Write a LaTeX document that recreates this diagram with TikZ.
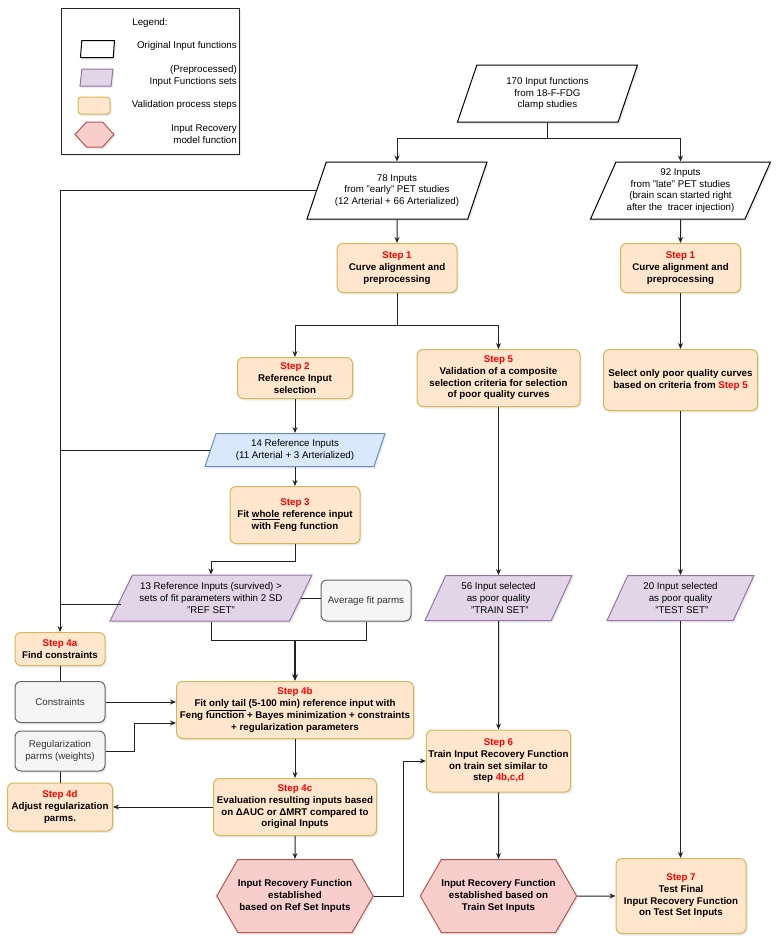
\documentclass[tikz,border=0pt]{standalone}
\usepackage{fontspec}
\setmainfont{Liberation Sans}
\usepackage{tikz}
\usetikzlibrary{arrows.meta,shapes.geometric,shapes.symbols,shadows,calc}
\definecolor{cStepF}{HTML}{FFE6CC}
\definecolor{cStepD}{HTML}{D6B656}
\definecolor{cPurpF}{HTML}{E1D5E7}
\definecolor{cPurpD}{HTML}{9673A6}
\definecolor{cBlueF}{HTML}{DAE8FC}
\definecolor{cBlueD}{HTML}{6C8EBF}
\definecolor{cRedF}{HTML}{F8CECC}
\definecolor{cRedD}{HTML}{B85450}
\definecolor{cGrayF}{HTML}{F5F5F5}
\definecolor{cGrayD}{HTML}{666666}
\definecolor{cGrayT}{HTML}{333333}
\definecolor{cLine}{HTML}{222222}
\definecolor{stepred}{HTML}{FF0000}
\newcommand{\dfont}{\fontsize{9.75pt}{11.7pt}\selectfont}
\newcommand{\steplbl}[1]{\textcolor{stepred}{#1}}
\tikzset{
  blk/.style     = {draw, line width=1pt, align=center, inner sep=2pt, font=\dfont,
                    drop shadow={opacity=0.16, shadow xshift=1.5pt, shadow yshift=-2pt}},
  stepbox/.style = {blk, rounded corners=6pt, fill=cStepF, draw=cStepD, font=\dfont\bfseries},
  graybox/.style = {blk, rounded corners=6pt, fill=cGrayF, draw=cGrayD, text=cGrayT},
  para/.style 2 args = {blk, trapezium, trapezium stretches body, inner xsep=0pt,
                    trapezium left angle=#1, trapezium right angle=#2},
  orig/.style    = {fill=white, draw=black},
  pset/.style    = {fill=cPurpF, draw=cPurpD},
  bset/.style    = {fill=cBlueF, draw=cBlueD},
  hexa/.style    = {blk, signal, signal to=west and east, signal pointer angle=120,
                    fill=cRedF, draw=cRedD, font=\dfont\bfseries, inner sep=0pt},
  lgdtxt/.style  = {font=\dfont, inner sep=0pt, anchor=east, align=right},
  line/.style    = {cLine, line width=1pt},
  arr/.style     = {line, -{Stealth[length=6pt,width=5pt]}},
  thickarr/.style= {cLine, line width=2pt, -{Stealth[length=7pt,width=6pt]}},
}
\begin{document}
\begin{tikzpicture}[x=1pt,y=-1pt]
  \useasboundingbox (0,0) rectangle (781,946);
  % legend
  \node[draw=black!85, fill=white, line width=1pt, minimum width=178, minimum height=146,
        drop shadow={opacity=0.16, shadow xshift=1.5pt, shadow yshift=-2pt}] (lgd) at (150,81) {};
  \node[font=\dfont] (lgdT) at (150,23) {Legend:};
  \node[para={72}{108}, orig, minimum width=34, minimum height=17] (lgO) at (97.5,49) {};
  \node[lgdtxt] (lgOt) at (237,46) {Original Input functions};
  \node[para={64}{116}, pset, minimum width=33, minimum height=17] (lgP) at (96.5,77.5) {};
  \node[lgdtxt] (lgPt) at (237,76) {(Preprocessed)\\Input Functions sets};
  \node[blk, rounded corners=3pt, fill=cStepF, draw=cStepD, minimum width=32, minimum height=17] (lgS) at (94,105.5) {};
  \node[lgdtxt] (lgSt) at (237,105) {Validation process steps};
  \node[hexa, signal pointer angle=95, minimum width=39, minimum height=25] (lgH) at (94.5,134.5) {};
  \node[lgdtxt] (lgHt) at (237,134) {Input Recovery\\model function};
  % input function sets
  \node[para={62}{118}, orig, minimum width=180, minimum height=57] (src) at (547.5,93.5)
    {170 Input functions\\from 18-F-FDG\\clamp studies};
  \node[para={62}{118}, orig, minimum width=180, minimum height=57] (early) at (397,190.5)
    {78 Inputs\\from "early" PET studies\\(12 Arterial + 66 Arterialized)};
  \node[para={62}{118}, orig, minimum width=180, minimum height=57] (late) at (680.5,190.5)
    {92 Inputs\\from "late" PET studies\\(brain scan started right\\after the\ \ tracer injection)};
  \node[para={66}{114}, bset, minimum width=180, minimum height=33] (ref14) at (295,450)
    {14 Reference Inputs\\(11 Arterial + 3 Arterialized)};
  \node[para={57}{123}, pset, minimum width=202, minimum height=46] (ref13) at (211,598)
    {13 Reference Inputs (survived) >\\sets of fit parameters within 2 SD\\"REF SET"};
  \node[para={59}{121}, pset, minimum width=147, minimum height=45] (train) at (498.5,598)
    {56 Input selected\\as poor quality\\\ "TRAIN SET"};
  \node[para={59}{121}, pset, minimum width=147, minimum height=45] (test) at (680.5,598)
    {20 Input selected\\as poor quality\\\ "TEST SET"};
  % steps
  \node[stepbox, minimum width=120, minimum height=49] (s1l) at (397,268)
    {\steplbl{Step 1}\\Curve alignment and\\preprocessing};
  \node[stepbox, minimum width=120, minimum height=49] (s1r) at (680.5,268)
    {\steplbl{Step 1}\\Curve alignment and\\preprocessing};
  \node[stepbox, minimum width=115, minimum height=41] (s2) at (295,378)
    {\steplbl{Step 2}\\Reference Input\\selection};
  \node[stepbox, minimum width=163, minimum height=57] (s5) at (498.5,378)
    {\steplbl{Step 5}\\Validation of a composite\\selection criteria for selection\\of poor quality curves};
  \node[stepbox, minimum width=154, minimum height=61] (sel) at (680.5,380)
    {Select only poor quality curves\\based on criteria from \steplbl{Step 5}};
  \node[stepbox, minimum width=130, minimum height=57] (s3) at (295,515)
    {\steplbl{Step 3}\\Fit \underline{whole} reference input\\with Feng function};
  \node[graybox, minimum width=90, minimum height=41] (avg) at (366,600.5) {Average fit parms};
  \node[stepbox, minimum width=90, minimum height=33] (s4a) at (60,649)
    {\steplbl{Step 4a}\\Find constraints};
  \node[graybox, minimum width=90, minimum height=41] (cons) at (60,702) {Constraints};
  \node[graybox, minimum width=90, minimum height=40] (reg) at (60,751) {Regularization\\parms (weights)};
  \node[stepbox, minimum width=237, minimum height=57] (s4b) at (295,710)
    {\steplbl{Step 4b}\\Fit \underline{only tail} (5-100 min) reference input with\\Feng function + Bayes minimization + constraints\\+ regularization parameters};
  \node[stepbox, minimum width=163, minimum height=57] (s4c) at (295,807)
    {\steplbl{Step 4c}\\Evaluation resulting inputs based\\on ΔAUC or ΔMRT compared to\\original Inputs};
  \node[stepbox, minimum width=105, minimum height=48] (s4d) at (60,807)
    {\steplbl{Step 4d}\\Adjust regularization\\parms.};
  \node[stepbox, minimum width=144, minimum height=62] (s6) at (498.5,761)
    {\steplbl{Step 6}\\Train Input Recovery Function\\on train set similar to\\step \steplbl{4b,c,d}};
  \node[stepbox, minimum width=130, minimum height=75] (s7) at (681,896)
    {\steplbl{Step 7}\\Test Final\\Input Recovery Function\\on Test Set Inputs};
  % recovery functions
  \node[hexa, minimum width=146, minimum height=73] (hex1) at (295,896)
    {Input Recovery Function\\established\\based on Ref Set Inputs};
  \node[hexa, minimum width=147, minimum height=73] (hex2) at (498.5,896)
    {Input Recovery Function\\established based on\\Train Set Inputs};
  % connectors
  \draw[arr] (src.south) -- ++(0,16) -| (early.north);
  \draw[arr] (src.south) -- ++(0,16) -| (late.north);
  \draw[arr] (early) -- (s1l);
  \draw[arr] (late) -- (s1r);
  \draw[arr] (early.west) -| (s4a.north);
  \draw[line] (ref14.west) -- (ref14.west -| s4a.north);
  \draw[line] ([yshift=-6pt]ref13.west) -- ([yshift=-6pt]ref13.west -| s4a.north);
  \draw[arr] (s1l.south) -- ++(0,32) -| (s2.north);
  \draw[arr] (s1l.south) -- ++(0,32) -| (s5.north);
  \draw[arr] (s1r) -- (sel);
  \draw[arr] (s2) -- (ref14);
  \draw[arr] (ref14) -- (s3);
  \draw[arr] (s3.south) -- ++(0,17) -| (ref13.north);
  \draw[line] (ref13.east) -- (ref13.east -| avg.west);
  \path (ref13.south) ++(0,19) coordinate (jref);
  \draw[line] (ref13.south) -- (jref) -| (avg.south);
  \draw[thickarr] (jref -| s4b.north) -- (s4b.north);
  \draw[line] (s4a) -- (cons);
  \draw[line] (reg) -- (s4d);
  \draw[arr] (cons.east) -- (cons.east -| s4b.west);
  \draw[arr] (reg.east) -- ++(29,0) |- ([yshift=-13pt]s4b.west);
  \draw[arr] (s4b) -- (s4c);
  \draw[arr] (s4c) -- (hex1);
  \draw[arr] (s4c.west) -- (s4c.west -| s4d.east);
  \draw[arr] (hex1.east) -- ++(30,0) |- (s6.west);
  \draw[arr] (s5) -- (train);
  \draw[arr] (sel) -- (test);
  \draw[arr] (train) -- (s6);
  \draw[arr] (test) -- (test |- s7.north);
  \draw[arr] (s6) -- (hex2);
  \draw[arr] (hex2) -- (s7);
\end{tikzpicture}
\end{document}
